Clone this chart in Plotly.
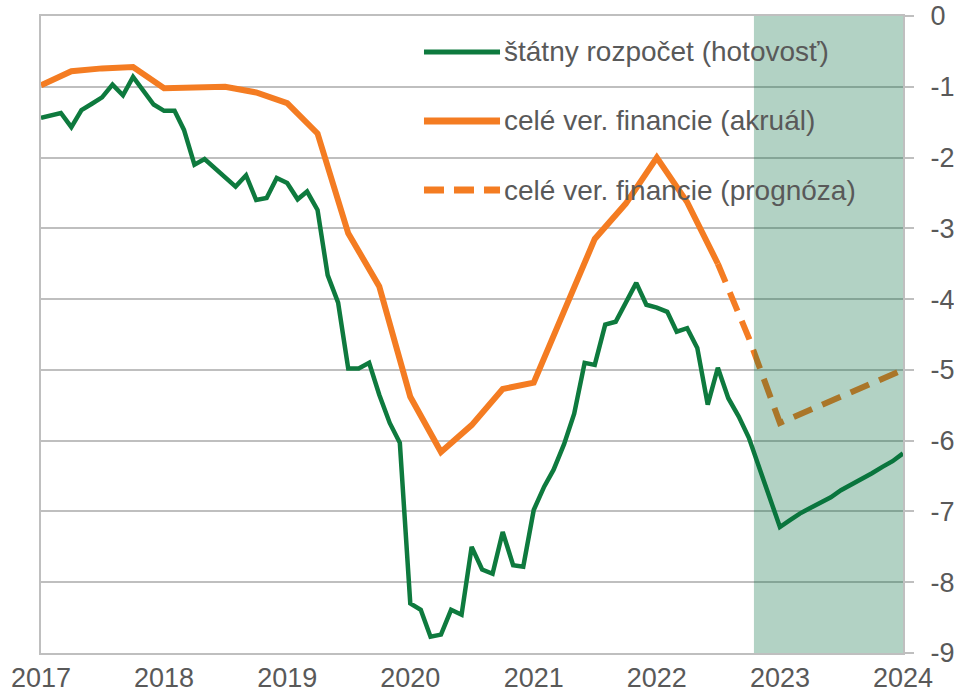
import pandas as pd
import plotly.graph_objects as go

# ---- data ----
months = pd.date_range("2017-01-01", periods=85, freq="MS")
statny_rozpocet = [
    -1.44, -1.40, -1.37, -1.57, -1.33, -1.24, -1.15, -0.97, -1.12, -0.86, -1.05, -1.25,
    -1.34, -1.34, -1.61, -2.10, -2.02, -2.15, -2.28, -2.41, -2.25, -2.60, -2.57, -2.29,
    -2.36, -2.59, -2.48, -2.74, -3.66, -4.05, -4.98, -4.98, -4.90, -5.35, -5.75, -6.03,
    -8.30, -8.39, -8.77, -8.74, -8.39, -8.46, -7.50, -7.82, -7.88, -7.29, -7.76, -7.78,
    -6.98, -6.65, -6.41, -6.05, -5.62, -4.90, -4.93, -4.36, -4.32, -4.04, -3.77, -4.08,
    -4.12, -4.18, -4.46, -4.41, -4.69, -5.49, -4.97, -5.40, -5.66, -5.96, -6.40, -6.80,
    -7.22, -7.12, -7.03, -6.95, -6.88, -6.80, -6.70, -6.62, -6.55, -6.46, -6.37, -6.29,
    -6.18,
]

quarters_actual = pd.date_range("2017-01-01", periods=23, freq="QS")
vf_akrual = [
    -0.98, -0.78, -0.74, -0.72, -1.02, -1.00, -1.00, -1.08, -1.23, -1.66, -3.07, -3.82,
    -5.38, -6.16, -5.78, -5.27, -5.18, -4.17, -3.15, -2.65, -2.00, -2.63, -3.50,
]

quarters_forecast = pd.date_range("2022-07-01", periods=7, freq="QS")
vf_prognoza = [-3.50, -4.55, -5.75, -5.56, -5.38, -5.19, -5.00]

forecast_start = "2022-10-16"
x_ticks = [str(y) for y in range(2017, 2025)]
y_ticks = list(range(0, -10, -1))

legend_labels = [
    "štátny rozpočet (hotovosť)",
    "celé ver. financie (akruál)",
    "celé ver. financie (prognóza)",
]

GREEN = "#0E7A3E"
ORANGE = "#F47C22"
GRID = "#BFBFBF"
TEXT = "#595959"
FONT = "Liberation Sans, Arial, sans-serif"

fig = go.Figure()
fig.add_trace(go.Scatter(x=months, y=statny_rozpocet, mode="lines",
                         line=dict(color=GREEN, width=4.5), name=legend_labels[0]))
fig.add_trace(go.Scatter(x=quarters_actual, y=vf_akrual, mode="lines",
                         line=dict(color=ORANGE, width=6), name=legend_labels[1]))
fig.add_trace(go.Scatter(x=quarters_forecast, y=vf_prognoza, mode="lines",
                         line=dict(color=ORANGE, width=6, dash="20px,11px"),
                         name=legend_labels[2]))

# forecast shading (overlay)
fig.add_shape(type="rect", xref="x", yref="y", x0=forecast_start, x1="2024-01-01",
              y0=-9, y1=0, fillcolor="rgba(0,107,60,0.30)", line=dict(width=0),
              layer="above")

# manual legend
leg_x0, leg_x1, leg_tx = 0.4443, 0.5325, 0.5348
leg_ys = [0.9435, 0.8352, 0.7268]
styles = [(GREEN, 5, "solid"), (ORANGE, 7, "solid"), (ORANGE, 7, "20px,10px")]
for lab, yy, (c, w, d) in zip(legend_labels, leg_ys, styles):
    fig.add_shape(type="line", xref="paper", yref="paper", x0=leg_x0, x1=leg_x1,
                  y0=yy, y1=yy, line=dict(color=c, width=w, dash=d), layer="below")
    fig.add_annotation(xref="paper", yref="paper", x=leg_tx, y=yy, text=lab,
                       showarrow=False, xanchor="left", yanchor="middle",
                       font=dict(family=FONT, size=28, color=TEXT))

fig.update_layout(
    width=954, height=699,
    margin=dict(l=41, r=51, t=16, b=46),
    paper_bgcolor="white", plot_bgcolor="white",
    showlegend=False,
    font=dict(family=FONT, size=27, color=TEXT),
)
fig.update_xaxes(
    type="date", range=["2017-01-01", "2024-01-01"], automargin=False,
    tickvals=[f"{y}-01-01" for y in x_ticks], ticktext=x_ticks,
    showgrid=False, showline=True, linecolor=GRID, linewidth=2, mirror=True,
    ticks="", ticklabelstandoff=0,
    tickfont=dict(family=FONT, size=27, color=TEXT),
)
fig.update_yaxes(
    range=[-9, 0], side="right", automargin=False,
    tickvals=y_ticks, ticktext=[str(v) for v in y_ticks],
    showgrid=True, gridcolor=GRID, gridwidth=2, zeroline=False,
    showline=True, linecolor=GRID, linewidth=2, mirror=True,
    ticks="outside", ticklen=9, tickcolor=GRID, tickwidth=2,
    ticklabelstandoff=11,
    tickfont=dict(family=FONT, size=27, color=TEXT),
)

fig.write_html(
    "out.html",
    config={"displayModeBar": False, "staticPlot": True},
    post_script="document.body.style.margin='0';document.body.style.overflow='hidden';",
)
